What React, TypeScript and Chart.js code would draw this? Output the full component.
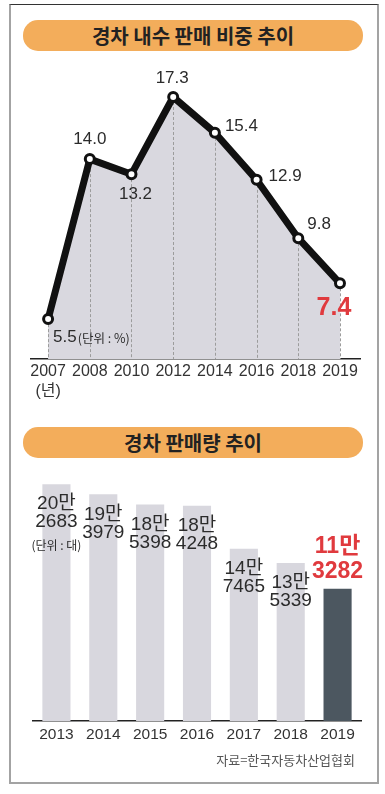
import React, { useEffect, useRef } from 'react';
import { Chart, registerables } from 'chart.js';

Chart.register(...registerables);

// ---- data ----
const shareTitle = '경차 내수 판매 비중 추이';
const shareYears = ['2007', '2008', '2010', '2012', '2014', '2016', '2018', '2019'];
const shareValues = [5.5, 14.0, 13.2, 17.3, 15.4, 12.9, 9.8, 7.4];
const shareUnit = '(단위 : %)';
const yearUnit = '(년)';

const salesTitle = '경차 판매량 추이';
const salesYears = ['2013', '2014', '2015', '2016', '2017', '2018', '2019'];
const salesValues = [202683, 193979, 185398, 184248, 147465, 135339, 113282];
const salesUnit = '(단위 : 대)';

const sourceText = '자료=한국자동차산업협회';

// ---- styles ----
const SANS = "'Liberation Sans', Arial, 'Noto Sans CJK KR', sans-serif";
const CJK = "'Noto Sans CJK KR', sans-serif";
const TEXT = '#2b2b2b';
const RED = '#E03A3E';
const ORANGE = '#F3AD5B';

const lineLabelsPlugin = {
  id: 'lineLabels',
  beforeDatasetDraw(chart: any) {
    const ctx = chart.ctx;
    const meta = chart.getDatasetMeta(0);
    const bottom = chart.chartArea.bottom;
    ctx.save();
    ctx.setLineDash([3, 2]);
    ctx.strokeStyle = '#9c9c9c';
    ctx.lineWidth = 1;
    meta.data.forEach((p: any) => {
      const x = Math.round(p.x) + 0.5;
      ctx.beginPath();
      ctx.moveTo(x, p.y);
      ctx.lineTo(x, bottom);
      ctx.stroke();
    });
    ctx.restore();
  },
  afterDatasetsDraw(chart: any) {
    const ctx = chart.ctx;
    const meta = chart.getDatasetMeta(0);
    // [align, dx, dy] per point
    const place: [string, number, number][] = [
      ['left', 5, 18],
      ['center', 0, -20],
      ['center', 4, 20],
      ['center', -1, -19],
      ['left', 10, -6],
      ['left', 12, -4],
      ['left', 9, -14],
      ['center', -6, 25],
    ];
    ctx.save();
    ctx.textBaseline = 'middle';
    meta.data.forEach((p: any, i: number) => {
      const txt = shareValues[i].toFixed(1);
      const [align, dx, dy] = place[i];
      const last = i === shareValues.length - 1;
      ctx.font = last ? `bold 25px ${SANS}` : `17px ${SANS}`;
      ctx.fillStyle = last ? RED : TEXT;
      ctx.textAlign = align;
      ctx.fillText(txt, p.x + dx, p.y + dy);
      if (i === 0) {
        const w = ctx.measureText(txt).width;
        ctx.font = `12.5px ${CJK}`;
        ctx.textAlign = 'left';
        ctx.fillText(shareUnit, p.x + dx + w + 1, p.y + dy + 1);
      }
    });
    ctx.restore();
  },
};

const barLabelsPlugin = {
  id: 'barLabels',
  afterDatasetsDraw(chart: any) {
    const ctx = chart.ctx;
    const meta = chart.getDatasetMeta(0);
    ctx.save();
    ctx.textAlign = 'center';
    ctx.textBaseline = 'middle';
    meta.data.forEach((b: any, i: number) => {
      const v = salesValues[i];
      const l1 = Math.floor(v / 10000) + '만';
      const l2 = String(v % 10000).padStart(4, '0');
      const last = i === salesValues.length - 1;
      if (last) {
        ctx.font = `bold 23px ${SANS}`;
        ctx.fillStyle = RED;
        ctx.fillText(l1, b.x, b.y - 42);
        ctx.fillText(l2, b.x, b.y - 17);
      } else {
        ctx.font = `19px ${SANS}`;
        ctx.fillStyle = TEXT;
        ctx.fillText(l1, b.x, b.y + 20);
        ctx.fillText(l2, b.x, b.y + 38);
        if (i === 0) {
          ctx.font = `12px ${CJK}`;
          ctx.fillText(salesUnit, b.x, b.y + 61);
        }
      }
    });
    ctx.restore();
  },
};

function ShareChart() {
  const ref = useRef<HTMLCanvasElement>(null);
  useEffect(() => {
    const chart = new Chart(ref.current as HTMLCanvasElement, {
      type: 'line',
      data: {
        datasets: [
          {
            data: shareValues.map((v, i) => ({ x: i, y: v })),
            borderColor: '#111111',
            borderWidth: 7,
            borderJoinStyle: 'round',
            borderCapStyle: 'round',
            tension: 0,
            fill: 'start',
            backgroundColor: '#D9D8DF',
            pointRadius: 4.5,
            pointBorderWidth: 3,
            pointBackgroundColor: '#ffffff',
            pointBorderColor: '#111111',
            clip: false,
          } as any,
        ],
      },
      options: {
        animation: false,
        responsive: false,
        events: [],
        layout: { padding: { left: 21, right: 17, top: 10, bottom: 3 } },
        plugins: { legend: { display: false }, tooltip: { enabled: false } },
        scales: {
          x: {
            type: 'linear',
            min: -0.41,
            max: 7.48,
            afterBuildTicks: (scale: any) => {
              scale.ticks = shareYears.map((_, i) => ({ value: i }));
            },
            grid: { display: false, drawTicks: false },
            border: { display: true, color: '#222', width: 1.5 },
            ticks: {
              autoSkip: false,
              maxRotation: 0,
              padding: 3,
              color: '#333',
              font: { family: SANS, size: 16, lineHeight: 1.25 },
              callback: (v: any) => {
                const i = Math.round(Number(v));
                return i === 0 ? [shareYears[0], yearUnit] : shareYears[i] ?? '';
              },
            },
          },
          y: { display: false, min: 3.38, max: 19.0 },
        },
      },
      plugins: [lineLabelsPlugin],
    } as any);
    return () => chart.destroy();
  }, []);
  return (
    <canvas
      ref={ref}
      width={367}
      height={353}
      style={{ position: 'absolute', left: 10, top: 55, width: 367, height: 353 }}
    />
  );
}

function SalesChart() {
  const ref = useRef<HTMLCanvasElement>(null);
  useEffect(() => {
    const chart = new Chart(ref.current as HTMLCanvasElement, {
      type: 'bar',
      data: {
        labels: salesYears,
        datasets: [
          {
            data: salesValues,
            backgroundColor: salesValues.map((_, i) => (i === salesValues.length - 1 ? '#4C5760' : '#D8D7DE')),
            borderWidth: 0,
            categoryPercentage: 1,
            barPercentage: 0.6,
          },
        ],
      },
      options: {
        animation: false,
        responsive: false,
        events: [],
        layout: { padding: { left: 23, right: 16, top: 14, bottom: 8.4 } },
        plugins: { legend: { display: false }, tooltip: { enabled: false } },
        scales: {
          x: {
            grid: { display: false, drawTicks: false },
            border: { display: true, color: '#222', width: 1.5 },
            ticks: {
              autoSkip: false,
              maxRotation: 0,
              padding: 4,
              color: '#333',
              font: { family: SANS, size: 15.5, lineHeight: 1.2 },
            },
          },
          y: { display: false, min: 0, max: 209700 },
        },
      },
      plugins: [barLabelsPlugin],
    } as any);
    return () => chart.destroy();
  }, []);
  return (
    <canvas
      ref={ref}
      width={367}
      height={294}
      style={{ position: 'absolute', left: 10, top: 462, width: 367, height: 294 }}
    />
  );
}

const bannerStyle = (top: number): React.CSSProperties => ({
  position: 'absolute',
  left: 23,
  top,
  width: 340,
  height: 31,
  borderRadius: 15,
  background: ORANGE,
  color: '#222',
  fontFamily: CJK,
  fontWeight: 700,
  fontSize: 20,
  lineHeight: '31px',
  textAlign: 'center',
  letterSpacing: 0,
});

export default function App() {
  return (
    <div style={{ position: 'absolute', left: 0, top: 0, width: 385, height: 794, background: '#fff', overflow: 'hidden' }}>
      <div
        style={{
          position: 'absolute',
          left: 9,
          top: 4,
          width: 366,
          height: 777,
          borderTop: '1.5px solid #333',
          borderLeft: '2px solid #a3a3a3',
          borderRight: '2px solid #a3a3a3',
          borderBottom: '2px solid #a3a3a3',
        }}
      />
      <div style={bannerStyle(20)}>{shareTitle}</div>
      <ShareChart />
      <div style={bannerStyle(427)}>{salesTitle}</div>
      <SalesChart />
      <div
        style={{
          position: 'absolute',
          right: 30,
          top: 751,
          fontFamily: CJK,
          fontSize: 13,
          lineHeight: '18px',
          color: '#555',
          whiteSpace: 'nowrap',
        }}
      >
        {sourceText}
      </div>
    </div>
  );
}
